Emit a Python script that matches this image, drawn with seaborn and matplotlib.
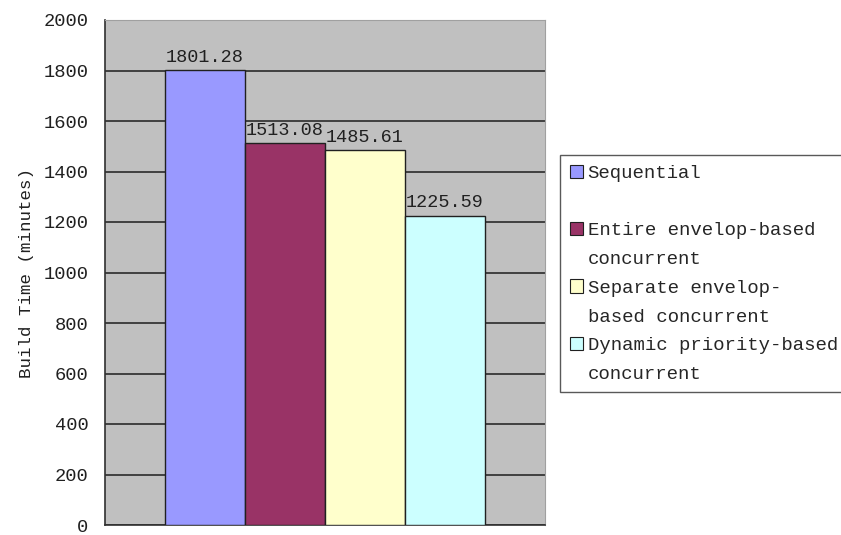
import matplotlib
matplotlib.use("Agg")
import matplotlib.pyplot as plt
from matplotlib.patches import Patch
import seaborn as sns
import pandas as pd

# Build times for each scheduling strategy
categories = [
    "Sequential",
    "Entire envelop-based concurrent",
    "Separate envelop-based concurrent",
    "Dynamic priority-based concurrent",
]
build_minutes = [1801.28, 1513.08, 1485.61, 1225.59]
bar_colors = ["#9999FF", "#993366", "#FFFFCC", "#CCFFFF"]
# Legend text wrapped onto rows as in the chart key
legend_rows = [
    ["Sequential", ""],
    ["Entire envelop-based", "concurrent"],
    ["Separate envelop-", "based concurrent"],
    ["Dynamic priority-based", "concurrent"],
]
y_ticks = [0, 200, 400, 600, 800, 1000, 1200, 1400, 1600, 1800, 2000]

sns.set_theme(style="white")
plt.rcParams["font.family"] = ["Liberation Mono", "DejaVu Sans"]

df = pd.DataFrame({"strategy": categories, "minutes": build_minutes})

fig = plt.figure(figsize=(8.41, 5.35), dpi=100)
ax = fig.add_axes([105 / 841, 10 / 535, 440 / 841, 505 / 535])
ax.set_facecolor("#C0C0C0")

sns.barplot(
    data=df, x="strategy", y="minutes", hue="strategy",
    palette=bar_colors, width=1.0, dodge=False, legend=False,
    edgecolor="#202020", linewidth=1.0, saturation=1.0, ax=ax, zorder=3,
)

ax.set_ylim(0, 2000)
ax.set_xlim(-1.25, 4.25)
ax.set_yticks(y_ticks)
ax.set_yticklabels([str(t) for t in y_ticks], fontsize=13.5, color="#202020")
ax.set_xticks([])
ax.set_xlabel("")
ax.set_ylabel("Build Time (minutes)", fontsize=12.6, color="#202020", labelpad=7)
ax.tick_params(axis="y", length=0, pad=12)
ax.yaxis.grid(True, color="#2A2A2A", linewidth=1.2, zorder=1)
ax.set_axisbelow(True)

for side in ["left", "bottom"]:
    ax.spines[side].set_color("#303030")
    ax.spines[side].set_linewidth(1.2)
for side in ["top", "right"]:
    ax.spines[side].set_color("#A0A0A0")
    ax.spines[side].set_linewidth(0.8)

for container in ax.containers:
    ax.bar_label(container, labels=[f"{v.get_height():.2f}" for v in container],
                 padding=3, fontsize=13.3, color="#202020")

# Key: one row per text line, swatch only on the first line of each entry
handles, labels = [], []
for color, rows in zip(bar_colors, legend_rows):
    for i, text in enumerate(rows):
        if i == 0:
            handles.append(Patch(facecolor=color, edgecolor="#202020", linewidth=0.8))
        else:
            handles.append(Patch(facecolor="none", edgecolor="none"))
        labels.append(text)

leg = fig.legend(
    handles, labels, loc="upper left", bbox_to_anchor=(560 / 841, 1 - 155 / 535),
    frameon=True, fancybox=False, fontsize=13.7, handlelength=0.7, handleheight=0.7,
    handletextpad=0.25, labelspacing=0.6, borderpad=0.5, borderaxespad=0,
)
leg.get_frame().set_edgecolor("#303030")
leg.get_frame().set_linewidth(1.0)

fig.savefig("out.png", dpi=100)
